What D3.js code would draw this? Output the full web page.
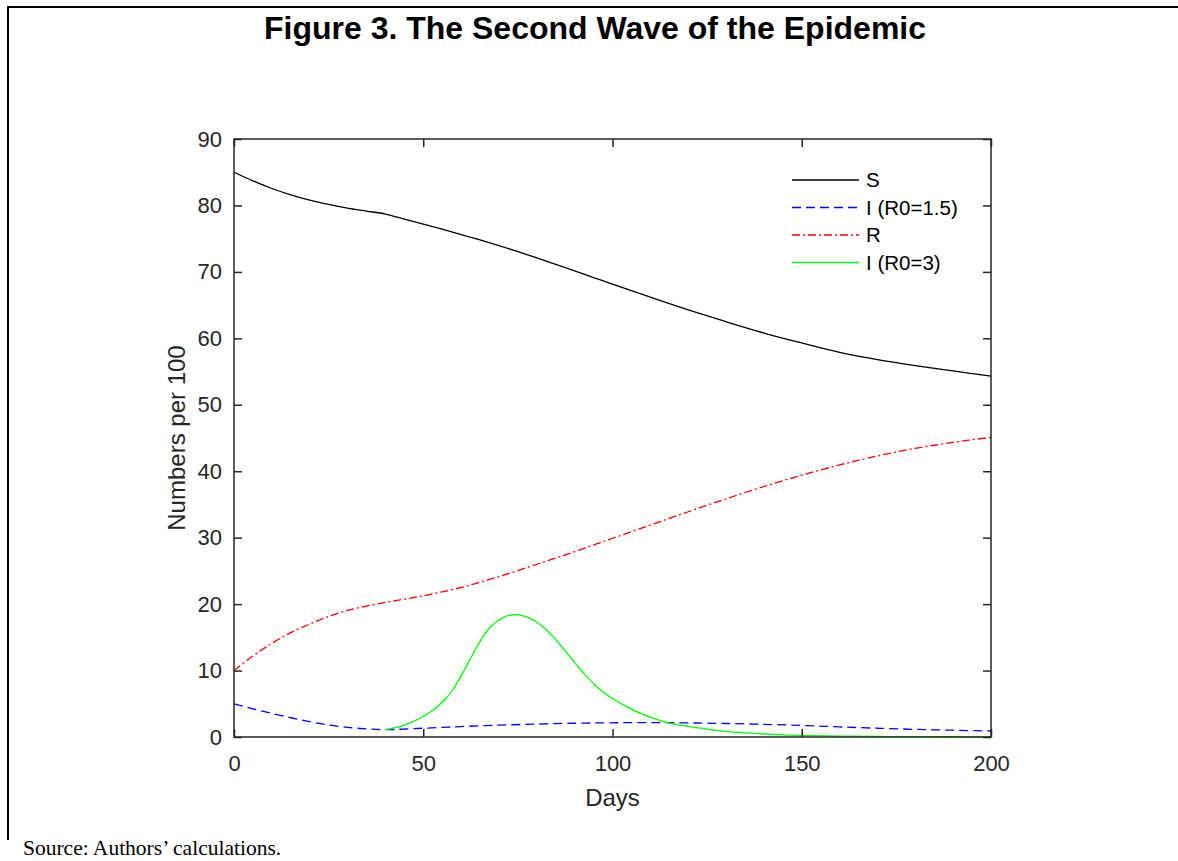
<!DOCTYPE html>
<html>
<head>
<meta charset="utf-8">
<script src="https://cdn.jsdelivr.net/npm/d3@7"></script>
<style>
  body { margin: 0; background: #fff; }
  svg { display: block; }
</style>
</head>
<body>
<script>
let width = 1178, height = 861;

// datos (días, números por 100)
let sDays = [0,5,10,15,20,25,30,35,40,45,50,55,60,65,70,75,80,85,90,95,100,110,120,130,140,150,160,170,180,190,200];
let sVals = [85.0,83.7,82.55,81.6,80.8,80.15,79.6,79.15,78.7,77.95,77.2,76.42,75.62,74.8,73.95,73.05,72.1,71.13,70.15,69.15,68.15,66.2,64.3,62.5,60.8,59.3,57.9,56.8,55.9,55.1,54.3];

let rDays = [0,5,10,15,20,25,30,35,40,45,50,55,60,65,70,75,80,85,90,95,100,110,120,130,140,150,160,170,180,190,200];
let rVals = [10.0,12.2,14.1,15.7,17.0,18.15,19.05,19.7,20.25,20.75,21.25,21.85,22.5,23.3,24.15,25.05,26.0,26.95,27.9,28.9,29.9,31.9,33.9,35.85,37.7,39.4,40.95,42.3,43.45,44.35,45.1];

let i15Days = [0,5,10,15,20,25,30,35,40,45,50,55,60,70,80,90,100,110,120,130,140,150,160,170,180,190,200];
let i15Vals = [5.0,4.25,3.55,2.9,2.3,1.8,1.45,1.22,1.1,1.2,1.32,1.45,1.57,1.78,1.95,2.07,2.14,2.16,2.12,2.03,1.9,1.74,1.52,1.32,1.15,1.02,0.9];

let i3Days = [40,44,48,50,52,54,56,58,60,62,64,66,68,70,72,74,76,78,80,82,84,86,88,90,92,94,96,98,100,103,106,110,115,120,125,130,135,140,145,150,160,170,180,200];
let i3Vals = [1.1,1.6,2.5,3.1,3.8,4.7,5.8,7.3,9.2,11.3,13.4,15.3,16.7,17.6,18.2,18.4,18.3,17.9,17.3,16.4,15.3,14.0,12.6,11.2,9.9,8.6,7.5,6.6,5.8,4.8,3.9,3.0,2.1,1.6,1.2,0.85,0.62,0.45,0.32,0.23,0.13,0.08,0.05,0.02];

let xTicks = [0,50,100,150,200];
let yTicks = [0,10,20,30,40,50,60,70,80,90];
let legendLabels = ["S", "I (R0=1.5)", "R", "I (R0=3)"];

let series = [
  {name: legendLabels[0], days: sDays, vals: sVals, color: "#000000", dash: null},
  {name: legendLabels[1], days: i15Days, vals: i15Vals, color: "#0000ff", dash: "9,5"},
  {name: legendLabels[2], days: rDays, vals: rVals, color: "#ff0000", dash: "8,3,2,3"},
  {name: legendLabels[3], days: i3Days, vals: i3Vals, color: "#00ff00", dash: null}
];

let plot = {left: 234, right: 991, top: 139, bottom: 737};
let axisColor = "#262626";
let sans = "Arial, 'Liberation Sans', Helvetica, sans-serif";

let svg = d3.select("body").append("svg")
  .attr("width", width)
  .attr("height", height);

// marco exterior
svg.append("line").attr("x1", 7).attr("y1", 7).attr("x2", width).attr("y2", 7)
  .attr("stroke", "#000").attr("stroke-width", 2);
svg.append("line").attr("x1", 8).attr("y1", 6).attr("x2", 8).attr("y2", 840)
  .attr("stroke", "#000").attr("stroke-width", 2);

svg.append("text")
  .attr("x", 595).attr("y", 39)
  .attr("text-anchor", "middle")
  .attr("font-family", sans)
  .attr("font-weight", "bold")
  .attr("font-size", 32)
  .attr("fill", "#000")
  .text("Figure 3. The Second Wave of the Epidemic");

let x = d3.scaleLinear().domain([0, 200]).range([plot.left, plot.right]);
let y = d3.scaleLinear().domain([0, 90]).range([plot.bottom, plot.top]);

let line = d3.line()
  .x(d => x(d[0]))
  .y(d => y(d[1]))
  .curve(d3.curveCatmullRom.alpha(0.5));

let g = svg.append("g");

series.forEach(function(s) {
  g.append("path")
    .datum(s.days.map((d, i) => [d, Math.max(0, s.vals[i])]))
    .attr("fill", "none")
    .attr("stroke", s.color)
    .attr("stroke-width", 1.3)
    .attr("stroke-dasharray", s.dash)
    .attr("d", line);
});

// ejes
function styleAxis(sel) {
  sel.select(".domain").remove();
  sel.selectAll(".tick line").attr("stroke", axisColor).attr("stroke-width", 1.5);
  sel.selectAll(".tick text")
    .attr("fill", axisColor)
    .attr("font-family", sans)
    .attr("font-size", 22);
}

svg.append("g")
  .attr("transform", "translate(0," + plot.bottom + ")")
  .call(d3.axisBottom(x).tickValues(xTicks).tickSize(-8).tickPadding(18))
  .call(styleAxis);

svg.append("g")
  .attr("transform", "translate(" + plot.left + ",0)")
  .call(d3.axisLeft(y).tickValues(yTicks).tickSize(-8).tickPadding(12))
  .call(styleAxis);

svg.append("g")
  .attr("transform", "translate(0," + plot.top + ")")
  .call(d3.axisTop(x).tickValues(xTicks).tickSize(-8).tickFormat(""))
  .call(styleAxis);

svg.append("g")
  .attr("transform", "translate(" + plot.right + ",0)")
  .call(d3.axisRight(y).tickValues(yTicks).tickSize(-8).tickFormat(""))
  .call(styleAxis);

svg.append("rect")
  .attr("x", plot.left).attr("y", plot.top)
  .attr("width", plot.right - plot.left)
  .attr("height", plot.bottom - plot.top)
  .attr("fill", "none")
  .attr("stroke", axisColor)
  .attr("stroke-width", 1.5);

svg.append("text")
  .attr("x", (plot.left + plot.right) / 2).attr("y", 806)
  .attr("text-anchor", "middle")
  .attr("font-family", sans)
  .attr("font-size", 24)
  .attr("fill", axisColor)
  .text("Days");

svg.append("text")
  .attr("transform", "translate(185," + ((plot.top + plot.bottom) / 2) + ") rotate(-90)")
  .attr("text-anchor", "middle")
  .attr("font-family", sans)
  .attr("font-size", 24)
  .attr("fill", axisColor)
  .text("Numbers per 100");

// leyenda
let legend = svg.append("g").attr("transform", "translate(792,180)");
series.forEach(function(s, i) {
  let row = legend.append("g").attr("transform", "translate(0," + (i * 27.5) + ")");
  row.append("line")
    .attr("x1", 0).attr("x2", 67)
    .attr("stroke", s.color)
    .attr("stroke-width", 1.3)
    .attr("stroke-dasharray", s.dash);
  row.append("text")
    .attr("x", 74).attr("dy", "0.36em")
    .attr("font-family", sans)
    .attr("font-size", 20.5)
    .attr("fill", "#000")
    .text(s.name);
});

svg.append("text")
  .attr("x", 23).attr("y", 855)
  .attr("font-family", "'Times New Roman', 'Liberation Serif', serif")
  .attr("font-size", 21.5)
  .attr("fill", "#000")
  .text("Source: Authors\u2019 calculations.");
</script>
</body>
</html>
